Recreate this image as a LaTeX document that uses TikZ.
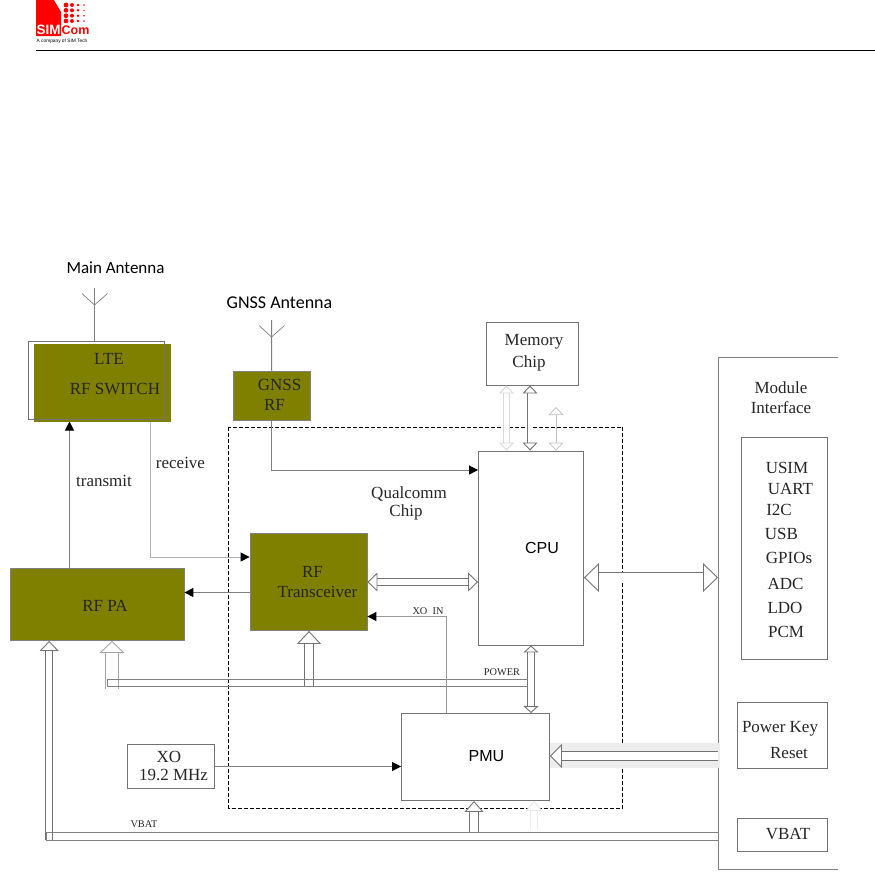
\documentclass[tikz,border=0pt]{standalone}
\usepackage{fontspec}
\setmainfont{Liberation Serif}
\newfontfamily\carlitofont{Carlito}
\newfontfamily\arialfont{Liberation Sans}
\usetikzlibrary{calc, positioning}
\usetikzlibrary{arrows.meta}
\definecolor{rfolive}{HTML}{808000}
\definecolor{simred}{HTML}{FF0000}
\tikzset{
  whitebox/.style={draw=black!55, fill=white, line width=0.9pt, inner sep=0pt},
  olivebox/.style={draw=black!50, fill=rfolive, line width=0.8pt, inner sep=0pt},
  lbl/.style={inner sep=0pt, font=\fontsize{17}{17}\selectfont, text=black!85},
  small lbl/.style={inner sep=0pt, font=\fontsize{10.3}{10.3}\selectfont, text=black!85},
  ant lbl/.style={inner sep=0pt, font=\fontsize{17}{17}\selectfont\carlitofont},
  sans lbl/.style={inner sep=0pt, font=\fontsize{16}{16}\selectfont\arialfont},
  sig/.style={draw=black!50, line width=1pt, -{Triangle[black, length=9pt, width=9pt]}},
  wire/.style={draw=black!50, line width=1pt},
  fatline/.style n args={3}{double=white, double distance=#1, line width=0.9pt, draw=black!55,
    -{Triangle[open, fill=white, length=#2, width=#3, line width=0.9pt]}},
  fatboth/.style n args={3}{double=white, double distance=#1, line width=0.9pt, draw=black!55,
    {Triangle[open, fill=white, length=#2, width=#3, line width=0.9pt]}-{Triangle[open, fill=white, length=#2, width=#3, line width=0.9pt]}},
}
\begin{document}
\begin{tikzpicture}[x=1pt, y=-1pt]
\useasboundingbox (0,0) rectangle (875,871);

% header
\fill[simred] (36,0) -- (54,0) -- (61,12) -- (61,36) -- (36,36) -- cycle;
\foreach \row in {5,10.3,15.7,21} {
  \fill[simred] (66,\row) circle (2.4);
  \fill[simred] (72,\row) circle (2);
  \fill[simred] (78,\row) circle (1.4);
  \fill[simred] (84,\row) circle (0.8);
}
\node[inner sep=0pt, font=\fontsize{13.5}{13.5}\selectfont\arialfont\bfseries, text=white] (simtext) at (48.5,29.5) {SIM};
\node[inner sep=0pt, font=\fontsize{12.5}{12.5}\selectfont\arialfont\bfseries, text=simred] (comtext) at (75.5,30.5) {Com};
\node[inner sep=0pt, font=\fontsize{4.8}{4.8}\selectfont\arialfont] (tagline) at (62,41) {A company of SIM Tech};
\draw[black, line width=1pt] (36,50.5) -- (875,50.5);

% chip outline
\draw[black, line width=1pt, dash pattern=on 4pt off 2pt] (228.5,427) rectangle (622.5,808);

% boxes
\node[olivebox, draw=none, minimum width=136.5pt, minimum height=77.5pt] (lte) at (102.25,382.75) {};
\node[draw=black!55, line width=0.9pt, minimum width=136pt, minimum height=78pt, inner sep=0pt] (lteframe) at (96.5,380.5) {};
\node[olivebox, minimum width=77.5pt, minimum height=48.5pt] (gnss) at (271.75,395.75) {};
\node[olivebox, minimum width=174pt, minimum height=72pt] (pa) at (97,604.5) {};
\node[olivebox, minimum width=117pt, minimum height=97pt] (trx) at (308.5,582) {};
\node[whitebox, minimum width=91.5pt, minimum height=62.5pt] (memory) at (532.25,353.75) {};
\node[whitebox, minimum width=105pt, minimum height=194pt] (cpu) at (531,548) {};
\node[whitebox, minimum width=148pt, minimum height=87pt] (pmu) at (475.5,757) {};
\node[whitebox, minimum width=87.5pt, minimum height=44.5pt] (xo) at (170.75,766.5) {};
\node[whitebox, minimum width=86pt, minimum height=222pt] (iface) at (784.5,548) {};
\node[whitebox, minimum width=90.5pt, minimum height=66pt] (powerkey) at (782.5,735.25) {};
\node[whitebox, minimum width=90pt, minimum height=32.5pt] (vbatbox) at (782.5,834.75) {};

% module edge
\coordinate (modtop) at (838,357);
\coordinate (modbot) at (838,869.5);
\draw[wire] (modtop) -| (718,869.5) -- (modbot);

% antennas
\coordinate (mainant) at (94.5,288);
\coordinate (gnssant) at (271.5,320);
\draw[wire] (mainant) -- (lteframe.north -| mainant);
\draw[wire, line width=0.7pt] (82,293.5) -- (94.5,305) -- (107.5,293.5);
\draw[wire] (gnssant) -- (gnss.north);
\draw[wire, line width=0.7pt] (259,325.5) -- (271.5,337) -- (284.5,325.5);

% signals
\coordinate (txbase) at (69.5,421.5);
\coordinate (rxbase) at (150,421.5);
\draw[sig] (pa.north -| txbase) -- (txbase);
\draw[sig, draw=black!30] (rxbase) |- (trx.west |- 0,557);
\draw[sig] (gnss.south) |- (cpu.west |- 0,470);
\draw[sig] (trx.west |- 0,592.5) -- (pa.east |- 0,592.5);
\draw[sig] (xo.east) -- (pmu.west |- xo.east);

% fat connectors
\draw[fatboth={5pt}{8pt}{15pt}, draw=black!15] (memory.south -| 506.5,0) -- (cpu.north -| 506.5,0);
\draw[fatboth={5pt}{8pt}{15pt}] (memory.south -| 530,0) -- (cpu.north -| 530,0);
\coordinate (memstub) at (556,407);
\draw[draw=black!25, line width=0.7pt, {Triangle[open, fill=white, length=8pt, width=15pt, line width=0.7pt]}-{Triangle[open, fill=white, length=8pt, width=15pt, line width=0.7pt]}] (memstub) -- (cpu.north -| memstub);
\draw[fatboth={6.7pt}{10pt}{19pt}] (trx.east |- 0,582) -- (cpu.west |- 0,582);
\draw[fatboth={10pt}{15pt}{29pt}] (cpu.east |- 0,577.5) -- (718,577.5);
\draw[fatboth={5.7pt}{7pt}{15pt}] (cpu.south -| 531,0) -- (pmu.north -| 531,0);

% power bus
\draw[fatline={8.5pt}{13pt}{24pt}] (309,686.6) -- (trx.south -| 309,0);
\draw[fatline={11.5pt}{12pt}{25pt}, draw=black!35] (112,689) -- (pa.south -| 112,0);
\coordinate (powertop) at (528,679.3);
\coordinate (powerbot) at (528,686.6);
\draw[wire] (powertop) -- (107.3,679.3) -- (107.3,686.6) -- (powerbot);
\draw[sig, draw=black!40] (pmu.north -| 446.5,0) |- (trx.east |- 0,616.5);

% vbat bus
\draw[fatline={6.3pt}{10pt}{19pt}] (49.2,840) -- (pa.south -| 49.2,0);
\draw[fatline={7.3pt}{11pt}{19pt}] (474,832.3) -- (pmu.south -| 474,0);
\draw[fatline={6pt}{10pt}{17pt}, draw=black!8] (534,829) -- (pmu.south -| 534,0);
\coordinate (vbattop) at (718,832.3);
\coordinate (vbatbot) at (718,840);
\draw[wire] (vbattop) -- (46,832.3) -- (46,840) -- (vbatbot);

% power key
\fill[black!7] (549.5,743) rectangle (720,768);
\draw[fatline={8pt}{12pt}{24pt}] (718,756) -- (pmu.east |- 0,756);

% labels
\node[ant lbl] (mainlbl) at (115.5,268) {Main Antenna};
\node[ant lbl, font=\fontsize{18}{18}\selectfont\carlitofont] (gnsslbl) at (279.5,303) {GNSS Antenna};
\node[lbl] (ltelbl) at (109,359) {LTE};
\node[lbl] (swlbl) at (115,389) {RF SWITCH};
\node[lbl] (gnsslbla) at (279.5,385) {GNSS};
\node[lbl] (gnsslblb) at (274.5,405) {RF};
\node[lbl] (txlbl) at (104,481) {transmit};
\node[lbl] (rxlbl) at (180.5,463) {receive};
\node[lbl] (palbl) at (105,606) {RF PA};
\node[lbl] (trxlbla) at (312.5,571.5) {RF};
\node[lbl] (trxlblb) at (317.5,592) {Transceiver};
\node[lbl] (qualcomma) at (409,494) {Qualcomm};
\node[lbl] (qualcommb) at (406,512) {Chip};
\node[lbl] (memlbla) at (534,342) {Memory};
\node[lbl] (memlblb) at (529,363) {Chip};
\node[sans lbl] (cpulbl) at (542,548) {CPU};
\node[sans lbl] (pmulbl) at (486.5,756) {PMU};
\node[small lbl] (xoinlbl) at (428,611) {XO\ \ IN};
\node[small lbl] (powerlbl) at (502,672) {POWER};
\node[small lbl] (vbatlbl) at (144,824) {VBAT};
\node[lbl] (xolbla) at (169,757) {XO};
\node[lbl] (xolblb) at (173.5,775) {19.2 MHz};
\node[lbl] (modlbla) at (781,388) {Module};
\node[lbl] (modlblb) at (781,408) {Interface};
\node[lbl] (usim) at (787,468) {USIM};
\node[lbl] (uart) at (790.5,489) {UART};
\node[lbl] (itwoc) at (779,510) {I2C};
\node[lbl] (usb) at (781.5,534) {USB};
\node[lbl] (gpios) at (789,558) {GPIOs};
\node[lbl] (adc) at (785.5,584) {ADC};
\node[lbl] (ldo) at (785,608) {LDO};
\node[lbl] (pcm) at (786,632) {PCM};
\node[lbl] (keylbla) at (780,729) {Power Key};
\node[lbl] (keylblb) at (789,753) {Reset};
\node[lbl] (vbatlblb) at (788,834) {VBAT};
\end{tikzpicture}
\end{document}
